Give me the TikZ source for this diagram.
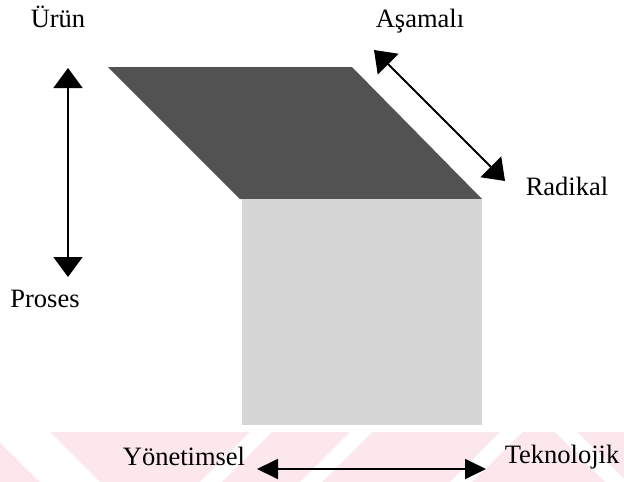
\documentclass[tikz,border=0pt]{standalone}
\usepackage{fontspec}
\setmainfont{Liberation Serif}
\usetikzlibrary{arrows.meta}
\definecolor{wmpink}{RGB}{251,231,236}

\begin{document}
\begin{tikzpicture}[x=1pt,y=-1pt,
		term/.style={font=\fontsize{26.5}{30}\selectfont, anchor=base, inner sep=0pt},
		dbl/.style={{Triangle[length=20pt,width=29pt]}-{Triangle[length=20pt,width=29pt]}, line width=1.8pt},
		dblflat/.style={{Triangle[length=21pt,width=20pt]}-{Triangle[length=21pt,width=20pt]}, line width=1.8pt}
	]
	\useasboundingbox (0,0) rectangle (624,482);
	\fill[wmpink] (0,432) rectangle (624,482);
	\begin{scope}
		\clip (0,432) rectangle (624,482);
		\fill[white] (-10,432) -- (50,432) -- (100,482) -- (40,482) -- cycle;
		\fill[white] (250,432) -- (272,432) -- (222,482) -- (200,482) -- cycle;
		\fill[white] (350,432) -- (372,432) -- (322,482) -- (300,482) -- cycle;
		\fill[white] (500,432) -- (522,432) -- (472,482) -- (450,482) -- cycle;
		\fill[white] (555,432) -- (577,432) -- (627,482) -- (605,482) -- cycle;
	\end{scope}

	\fill[black!68] (108,67) -- (352,67) -- (482,199) -- (240,199) -- cycle;
	\fill[black!16] (242,199) rectangle (482,425);

	\node[term] (urun) at (58,27) {Ürün};
	\node[term] (proses) at (45,307) {Proses};
	\node[term] (asamali) at (420,27) {Aşamalı};
	\node[term] (radikal) at (567,195) {Radikal};
	\node[term] (yonetimsel) at (184,465) {Yönetimsel};
	\node[term] (teknolojik) at (562,463) {Teknolojik};

	\coordinate (up) at (68,68);
	\coordinate (down) at (68,277);
	\coordinate (nw) at (374,50);
	\coordinate (se) at (505,181);
	\coordinate (west) at (257,469);
	\coordinate (east) at (486,469);

	\draw[dbl] (up) -- (down);
	\draw[dbl] (nw) -- (se);
	\draw[dblflat] (west) -- (east);
\end{tikzpicture}
\end{document}
